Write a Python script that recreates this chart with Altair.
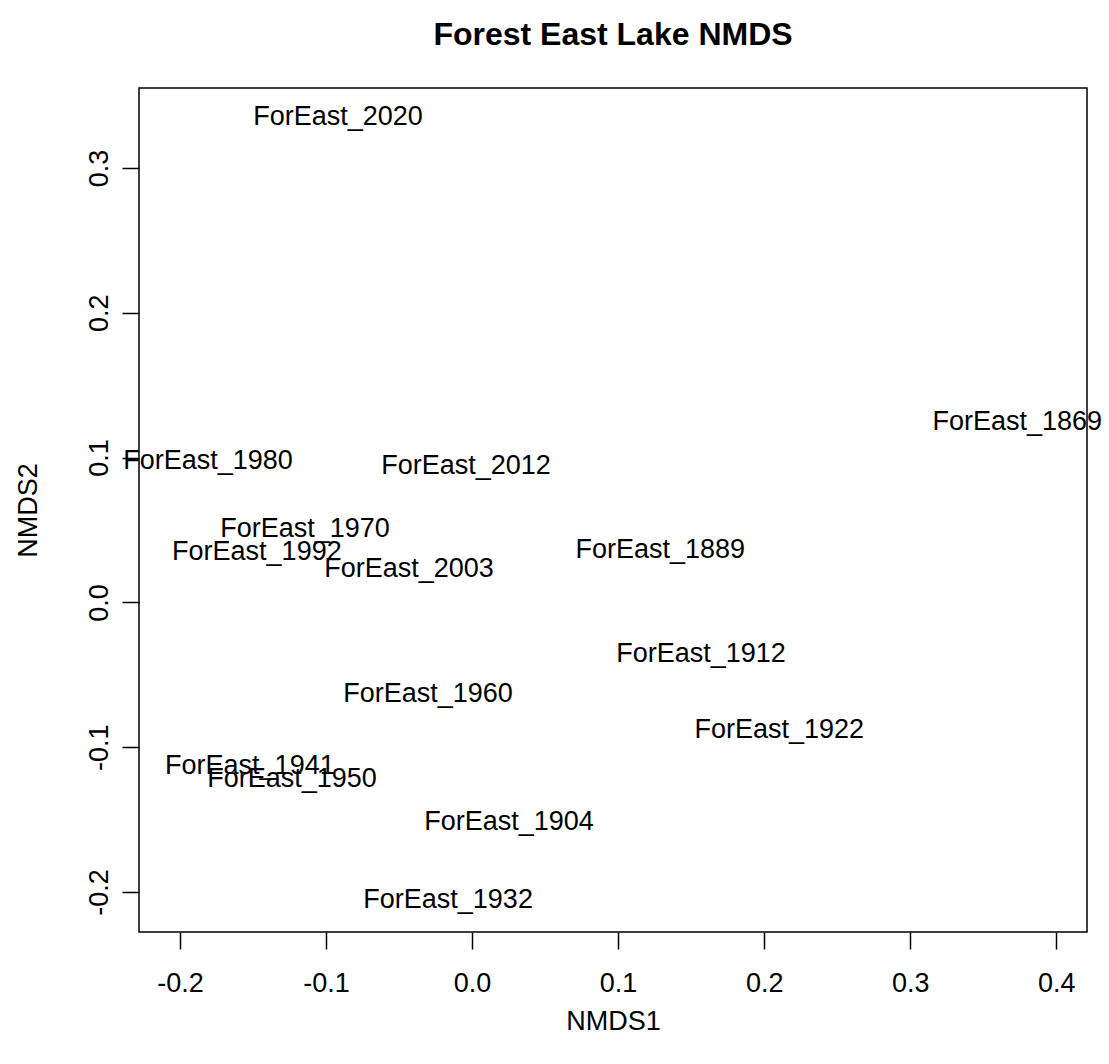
import altair as alt
import pandas as pd

labels = ["ForEast_2020", "ForEast_1869", "ForEast_1980", "ForEast_2012", "ForEast_1970",
          "ForEast_1992", "ForEast_2003", "ForEast_1889", "ForEast_1912", "ForEast_1960",
          "ForEast_1922", "ForEast_1941", "ForEast_1950", "ForEast_1904", "ForEast_1932"]
nmds1 = [-0.0918, 0.3733, -0.1808, -0.0041, -0.1144, -0.1473, -0.0432, 0.1288, 0.1568,
         -0.0301, 0.2103, -0.1521, -0.1233, 0.0253, -0.0164]
nmds2 = [0.3353, 0.1246, 0.0977, 0.0942, 0.0507, 0.0348, 0.0230, 0.0362, -0.0355,
         -0.0633, -0.0881, -0.1128, -0.1218, -0.1515, -0.2055]
x_ticks = [-0.2, -0.1, 0.0, 0.1, 0.2, 0.3, 0.4]
y_ticks = [-0.2, -0.1, 0.0, 0.1, 0.2, 0.3]
x_domain = [-0.228, 0.421]
y_domain = [-0.2276, 0.3552]

df = pd.DataFrame({"label": labels, "NMDS1": nmds1, "NMDS2": nmds2})

FONT = "Liberation Sans"
LABEL_EXPR = "datum.value < 0 ? '-' + format(-datum.value, '.1f') : format(datum.value, '.1f')"

chart = alt.Chart(df).mark_text(
    font=FONT, fontSize=27, color="black", align="center", baseline="middle"
).encode(
    x=alt.X("NMDS1:Q", scale=alt.Scale(domain=x_domain, nice=False, zero=False),
            axis=alt.Axis(values=x_ticks, labelExpr=LABEL_EXPR, title="NMDS1", grid=False,
                          domain=False, tickSize=17, tickColor="black", tickWidth=1.5,
                          labelFont=FONT, labelFontSize=27, labelColor="black",
                          labelPadding=21, labelFlush=False, labelOverlap=False,
                          titleFont=FONT, titleFontSize=27, titleFontWeight="normal",
                          titleColor="black", titlePadding=12)),
    y=alt.Y("NMDS2:Q", scale=alt.Scale(domain=y_domain, nice=False, zero=False),
            axis=alt.Axis(values=y_ticks, labelExpr=LABEL_EXPR, title="NMDS2", grid=False,
                          domain=False, tickSize=17, tickColor="black", tickWidth=1.5,
                          labelFont=FONT, labelFontSize=27, labelColor="black",
                          labelAngle=270, labelAlign="center", labelBaseline="alphabetic",
                          labelPadding=15, labelFlush=False, labelOverlap=False,
                          titleFont=FONT, titleFontSize=27, titleFontWeight="normal",
                          titleColor="black", titlePadding=43)),
    text="label:N",
).properties(
    width=948,
    height=844,
    title=alt.TitleParams("Forest East Lake NMDS", font=FONT, fontSize=32,
                          fontWeight="bold", color="black", anchor="middle",
                          baseline="alphabetic", offset=11),
    autosize=alt.AutoSizeParams(type="none"),
    padding={"left": 139, "top": 88, "right": 22, "bottom": 132},
).configure(
    background="white",
    view=alt.ViewConfig(stroke="black", strokeWidth=1.5),
)

chart.save("out.html", embed_options={"renderer": "svg", "actions": False})
